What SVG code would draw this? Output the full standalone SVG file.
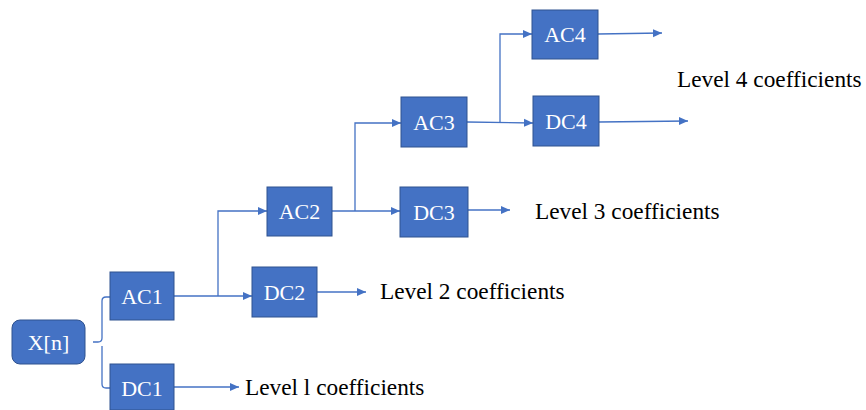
<svg xmlns="http://www.w3.org/2000/svg" width="866" height="410" viewBox="0 0 866 410">
<style>
.box{fill:#4472C4;stroke:#2F528F;stroke-width:1}
.lbl{font-family:"Liberation Serif","Times New Roman",serif;font-size:22px;fill:#ffffff;text-anchor:middle}
.txt{font-family:"Liberation Serif","Times New Roman",serif;font-size:23.3px;fill:#000000}
.ln{fill:none;stroke:#4472C4;stroke-width:1.3}
</style>
<defs>
<marker id="ah" markerUnits="userSpaceOnUse" markerWidth="10" markerHeight="10" refX="9" refY="5" orient="auto">
<path d="M0,1 L9,5 L0,9 Z" fill="#4472C4"/>
</marker>
</defs>
<rect width="866" height="410" fill="#ffffff"/>
<g id="connectors">
<path class="ln" d="M93,342 L98,342 Q102,342 102,338 L102,301 Q102,297 106,297 L110,297"/>
<path class="ln" d="M102,346 L102,384 Q102,388 106,388 L110,388"/>
<path class="ln" d="M174,296 L252,296" marker-end="url(#ah)"/>
<path class="ln" d="M218,296 L218,211 L267,211" marker-end="url(#ah)"/>
<path class="ln" d="M332,211 L400,211" marker-end="url(#ah)"/>
<path class="ln" d="M355,211 L355,123 L401,123" marker-end="url(#ah)"/>
<path class="ln" d="M467,122 L533,123" marker-end="url(#ah)"/>
<path class="ln" d="M500,122 L500,34 L532,34" marker-end="url(#ah)"/>
<path class="ln" d="M598,34 L662,33" marker-end="url(#ah)"/>
<path class="ln" d="M599,122 L688,121" marker-end="url(#ah)"/>
<path class="ln" d="M468,210 L510,210" marker-end="url(#ah)"/>
<path class="ln" d="M317,292 L366,292" marker-end="url(#ah)"/>
<path class="ln" d="M174,387 L239,387" marker-end="url(#ah)"/>
</g>
<g id="xn"><rect class="box" x="12" y="320" width="73" height="44" rx="8"/><text class="lbl" x="48.5" y="350">X[n]</text></g>
<g id="ac1"><rect class="box" x="110" y="272" width="64" height="48"/><text class="lbl" x="142" y="304">AC1</text></g>
<g id="dc1"><rect class="box" x="110" y="364" width="64" height="46"/><text class="lbl" x="142" y="396">DC1</text></g>
<g id="ac2"><rect class="box" x="267" y="187" width="65" height="49"/><text class="lbl" x="299.5" y="219">AC2</text></g>
<g id="dc2"><rect class="box" x="252" y="267" width="65" height="50"/><text class="lbl" x="284.5" y="300">DC2</text></g>
<g id="ac3"><rect class="box" x="401" y="97" width="66" height="50"/><text class="lbl" x="434" y="130">AC3</text></g>
<g id="dc3"><rect class="box" x="400" y="187" width="68" height="50"/><text class="lbl" x="434" y="220">DC3</text></g>
<g id="ac4"><rect class="box" x="532" y="10" width="66" height="49"/><text class="lbl" x="565" y="42">AC4</text></g>
<g id="dc4"><rect class="box" x="533" y="96" width="66" height="50"/><text class="lbl" x="566" y="129">DC4</text></g>
<g id="labels">
<text class="txt" x="245" y="395">Level l coefficients</text>
<text class="txt" x="380" y="299">Level 2 coefficients</text>
<text class="txt" x="535" y="219">Level 3 coefficients</text>
<text class="txt" x="677" y="87">Level 4 coefficients</text>
</g>
</svg>
